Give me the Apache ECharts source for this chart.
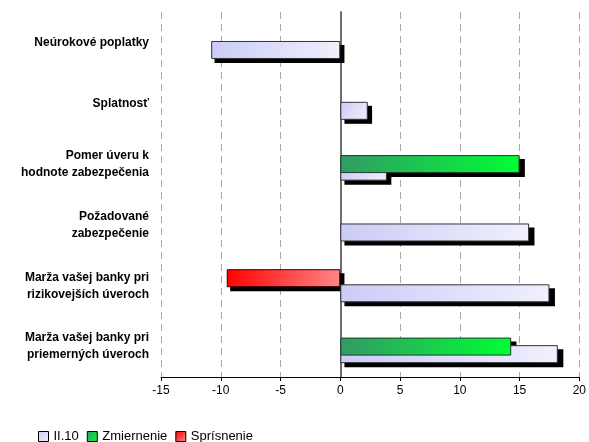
<!DOCTYPE html>
<html>
<head>
<meta charset="utf-8">
<title>Úverové podmienky</title>
<script src="https://cdn.jsdelivr.net/npm/echarts@6/dist/echarts.min.js"></script>
<style>
  html, body { margin: 0; padding: 0; background: #fff; }
  #chart { width: 589px; height: 442px; }
</style>
</head>
<body>
<div id="chart"></div>
<script>
// kategórie (zhora nadol)
var categories = [
  'Neúrokové poplatky',
  'Splatnosť',
  'Pomer úveru k\nhodnote zabezpečenia',
  'Požadované\nzabezpečenie',
  'Marža vašej banky pri\nrizikovejších úveroch',
  'Marža vašej banky pri\npriemerných úveroch'
]
var seriesNames = ['II.10', 'Zmiernenie', 'Sprísnenie']
var ii10 = [-10.8, 2.3, 3.9, 15.8, 17.5, 18.2]
var zmiernenie = [null, null, 15.0, null, null, 14.3]
var sprisnenie = [null, null, null, null, -9.5, null]
var xTicks = { min: -15, max: 20, interval: 5 }

var font = "'Liberation Sans', Arial, sans-serif"
var G = echarts.graphic

var fills = [
  new G.LinearGradient(0, 0, 1, 1, [{ offset: 0, color: '#cbcbf7' }, { offset: 1, color: '#f0f0fe' }]),
  new G.LinearGradient(0, 0, 1, 1, [{ offset: 0, color: '#339966' }, { offset: 1, color: '#00ff33' }]),
  new G.LinearGradient(0, 0, 1, 1, [{ offset: 0, color: '#ff0000' }, { offset: 1, color: '#ff8888' }])
]
var borders = ['#333', '#1d3d2a', '#300']
var allData = [ii10, zmiernenie, sprisnenie]
// os y je obrátená, takže prvá séria je hore -> poradie slotov odzadu
var slotOrder = [2, 1, 0]

// plocha grafu, tiene idú do druhej mriežky posunutej o pár px
var plot = { left: 161, top: 12, width: 421, height: 365 }
var shadowDx = 3
var shadowDy = 4

var chart = echarts.init(document.getElementById('chart'), null, { renderer: 'canvas' })

var series = []
slotOrder.forEach(function(i) {
  series.push({
    name: 'tien' + i,
    type: 'bar',
    xAxisIndex: 0,
    yAxisIndex: 0,
    data: allData[i],
    barWidth: 18,
    barGap: '-58%',
    silent: true,
    z: 1,
    itemStyle: { color: '#000' }
  })
})
slotOrder.forEach(function(j) {
  series.push({
    name: seriesNames[j],
    type: 'bar',
    xAxisIndex: 1,
    yAxisIndex: 1,
    data: allData[j],
    barWidth: 18,
    barGap: '-58%',
    z: j === 0 ? 3 : 4,
    itemStyle: {
      color: fills[j],
      borderColor: borders[j],
      borderWidth: 1
    }
  })
})

chart.setOption({
  animation: false,
  textStyle: { fontFamily: font },
  grid: [
    { left: plot.left + shadowDx, top: plot.top + shadowDy, width: plot.width, height: plot.height },
    { left: plot.left, top: plot.top, width: plot.width, height: plot.height }
  ],
  legend: {
    data: seriesNames,
    left: 33,
    top: 425,
    itemWidth: 10,
    itemHeight: 10,
    itemGap: 8,
    icon: 'rect',
    itemStyle: { borderColor: '#000', borderWidth: 1 },
    textStyle: { fontSize: 13, color: '#000', fontFamily: font }
  },
  xAxis: [
    {
      gridIndex: 0, type: 'value', min: xTicks.min, max: xTicks.max, interval: xTicks.interval,
      show: false, splitLine: { show: false }
    },
    {
      gridIndex: 1, type: 'value', min: xTicks.min, max: xTicks.max, interval: xTicks.interval,
      axisLine: { show: true, onZero: false, lineStyle: { color: '#000', width: 1 } },
      axisTick: { show: true, length: 4, lineStyle: { color: '#000' } },
      axisLabel: { color: '#000', fontSize: 12, margin: 8, fontFamily: font },
      splitLine: { show: true, lineStyle: { color: '#a8a8a8', type: [7, 5], width: 1 } }
    }
  ],
  yAxis: [
    {
      gridIndex: 0, type: 'category', data: categories, inverse: true, show: false
    },
    {
      gridIndex: 1, type: 'category', data: categories, inverse: true,
      axisLine: { show: true, onZero: true, lineStyle: { color: '#6e6e6e', width: 2 } },
      axisTick: { show: false },
      axisLabel: {
        color: '#000', fontSize: 12, fontWeight: 'bold', lineHeight: 17,
        margin: 12, fontFamily: font
      }
    }
  ],
  series: series
})
</script>
</body>
</html>
